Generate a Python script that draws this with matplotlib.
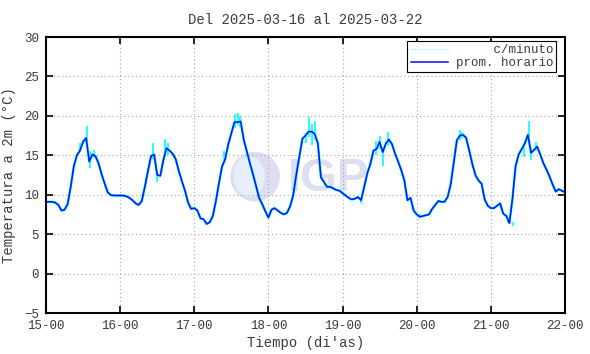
# plot.py
# Temperatura a 2m, semana 2025-03-16 .. 2025-03-22 (estilo gnuplot)

import matplotlib
matplotlib.use("Agg")
import matplotlib.pyplot as plt
from matplotlib.patches import Ellipse
import numpy as np

# ---------------------------------------------------------------------------
# Datos
# ---------------------------------------------------------------------------

title = "Del 2025-03-16 al 2025-03-22"
tick_labels = ["15-00", "16-00", "17-00", "18-00", "19-00", "20-00", "21-00", "22-00"]

# promedio horario, un valor por hora (00..23) para cada dia
day15 = [9.1, 9.1, 9.1, 9.0, 8.7, 8.0, 8.1, 8.8, 11.0, 13.6, 15.0, 15.6,
         16.7, 17.2, 14.2, 15.1, 14.9, 14.0, 12.6, 11.4, 10.3, 9.95, 9.9, 9.9]
day16 = [9.9, 9.9, 9.8, 9.6, 9.3, 8.9, 8.7, 9.2, 11.0, 13.0, 14.9, 15.1,
         12.5, 12.4, 14.4, 15.9, 15.6, 15.2, 14.5, 13.0, 11.7, 10.5, 9.0, 8.2]
day17 = [8.3, 8.0, 7.0, 6.9, 6.3, 6.5, 7.3, 9.2, 11.5, 13.6, 14.5, 16.4,
         17.8, 19.2, 19.2, 19.3, 17.0, 15.5, 14.0, 12.6, 11.1, 9.6, 8.8, 7.9]
day18 = [7.1, 8.1, 8.3, 8.0, 7.7, 7.5, 7.7, 8.5, 9.9, 12.5, 14.8, 17.1,
         17.5, 18.0, 18.0, 17.7, 16.5, 12.2, 11.6, 11.0, 11.0, 10.8, 10.6, 10.5]
day19 = [10.2, 9.9, 9.6, 9.4, 9.5, 9.7, 9.3, 11.0, 12.7, 13.9, 15.6, 15.8,
         16.7, 15.4, 16.5, 17.0, 16.4, 15.2, 14.2, 13.1, 11.8, 9.3, 9.6, 8.0]
day20 = [7.5, 7.2, 7.3, 7.4, 7.5, 8.2, 8.7, 9.2, 9.1, 9.1, 9.7, 11.3,
         14.1, 16.9, 17.5, 17.6, 17.2, 15.6, 13.9, 12.5, 11.8, 11.4, 9.4, 8.6]
day21 = [8.3, 8.3, 8.6, 8.9, 7.6, 7.3, 6.4, 9.5, 13.6, 15.1, 15.8, 16.5,
         17.6, 15.3, 15.7, 16.1, 15.1, 14.0, 13.2, 12.3, 11.3, 10.4, 10.7, 10.5]
last_value = 10.3  # 22-00

# picos de la serie por minuto: hora desde el inicio, minimo, maximo
spike_hour = [11.0, 13.2, 14.4, 15.4,
              34.5, 36.0, 38.4, 39.6,
              57.5, 61.2, 62.0, 62.8,
              84.0, 85.2, 86.2, 87.0,
              102.0, 106.8, 108.2, 109.2, 110.6,
              121.2, 134.0, 134.8,
              151.2, 154.8, 156.3, 157.0, 158.6]
spike_lo = [15.4, 16.3, 13.4, 14.6,
            14.5, 11.6, 15.3, 15.0,
            14.5, 18.5, 18.8, 18.6,
            16.5, 17.3, 16.3, 17.0,
            8.9, 15.0, 15.8, 13.7, 16.2,
            7.0, 17.0, 17.2,
            6.0, 14.8, 16.8, 14.4, 15.5]
spike_hi = [16.5, 18.7, 15.6, 15.7,
            16.6, 12.8, 17.1, 16.5,
            15.6, 20.2, 20.3, 20.0,
            17.8, 19.8, 19.0, 19.3,
            9.7, 16.8, 17.5, 15.8, 18.0,
            7.6, 18.2, 18.0,
            6.6, 16.6, 19.3, 16.0, 16.7]

# ---------------------------------------------------------------------------
# Figura
# ---------------------------------------------------------------------------

plt.rcParams["font.family"] = ["Liberation Mono", "DejaVu Sans Mono"]
text_color = "#3a3a3a"

hourly = np.array(day15 + day16 + day17 + day18 + day19 + day20 + day21 + [last_value])
t_days = np.arange(len(hourly)) / 24.0
spike_t = np.array(spike_hour) / 24.0

fig = plt.figure(figsize=(5.9, 3.54), dpi=100)
ax = fig.add_axes([46 / 590, 41 / 354, 519 / 590, 276 / 354])

# --- marca de agua IGP ---
ax.add_patch(Ellipse((2.82, 12.3), 0.67, 6.3, facecolor="#dedef3",
                     edgecolor="none", zorder=0.5))
ax.add_patch(Ellipse((2.74, 12.3), 0.42, 5.2, facecolor="#e8effb",
                     edgecolor="none", zorder=0.6))
ax.text(3.26, 12.0, "IGP", family="Liberation Sans", fontweight="bold",
        fontsize=34, color="#dedef3", ha="left", va="center", zorder=0.5)

# --- series ---
ax.plot(t_days, hourly, color="#00ffff", lw=1.8, zorder=2)
ax.vlines(spike_t, spike_lo, spike_hi, color="#00ffff", lw=1.2, zorder=2)
ax.plot([], [], color="#b8ffff", lw=0.8, label="     c/minuto")
ax.plot(t_days, hourly, color="#0a0aff", lw=1.1, zorder=3, label="prom. horario")

# --- ejes ---
ax.set_xlim(0, 7)
ax.set_ylim(-5, 30)
ax.set_xticks(range(len(tick_labels)))
ax.set_xticklabels(tick_labels)
ax.set_yticks(range(-5, 31, 5))

ax.grid(True, color="#a8a8a8", lw=0.8, linestyle=(0, (1, 2.5)))
ax.tick_params(direction="in", length=5, width=1.2, top=True, right=True,
               labelsize=9, colors="black", labelcolor=text_color, pad=5)
for s in ax.spines.values():
    s.set_linewidth(1.5)

ax.set_title(title, fontsize=10, color=text_color, pad=9)
ax.set_xlabel("Tiempo (di'as)", fontsize=10, color=text_color, labelpad=3)
ax.set_ylabel("Temperatura a 2m (°C)", fontsize=10, color=text_color, labelpad=6)

leg = ax.legend(loc="upper right", bbox_to_anchor=(0.983, 0.986),
                borderaxespad=0, fancybox=False, framealpha=1,
                edgecolor="black", fontsize=9, handlelength=3.0,
                handletextpad=0.6, borderpad=0.25, labelspacing=0.1)
leg.get_frame().set_linewidth(0.8)
for t in leg.get_texts():
    t.set_color(text_color)

fig.savefig("out.png", dpi=100)
plt.close(fig)
